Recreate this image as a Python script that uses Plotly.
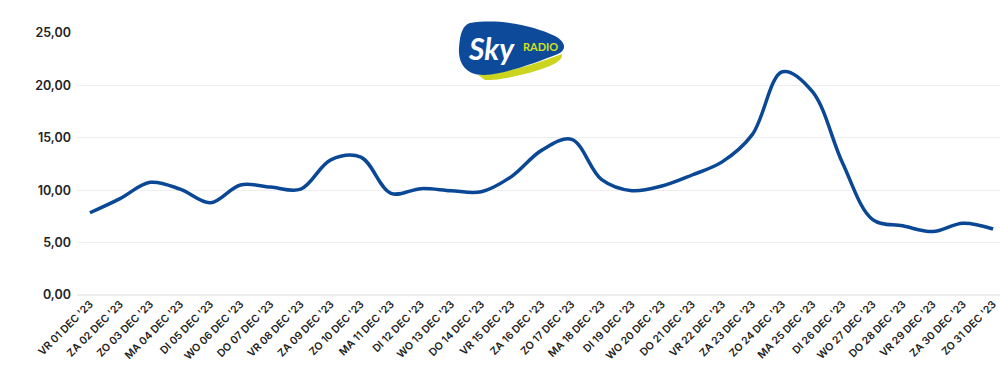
import plotly.graph_objects as go

days = ["VR 01", "ZA 02", "ZO 03", "MA 04", "DI 05", "WO 06", "DO 07", "VR 08", "ZA 09", "ZO 10",
        "MA 11", "DI 12", "WO 13", "DO 14", "VR 15", "ZA 16", "ZO 17", "MA 18", "DI 19", "WO 20",
        "DO 21", "VR 22", "ZA 23", "ZO 24", "MA 25", "DI 26", "WO 27", "DO 28", "VR 29", "ZA 30", "ZO 31"]
categories = [d + " DEC '23" for d in days]
values = [7.85, 9.2, 10.75, 10.1, 8.8, 10.5, 10.3, 10.1, 12.9, 13.15,
          9.7, 10.15, 9.95, 9.85, 11.3, 13.8, 14.85, 11.0, 9.95, 10.4,
          11.45, 12.7, 15.3, 21.3, 19.4, 12.6, 7.2, 6.6, 6.05, 6.85, 6.3]
y_ticks = [0, 5, 10, 15, 20, 25]
y_tick_labels = ["0,00", "5,00", "10,00", "15,00", "20,00", "25,00"]

W, H = 1000, 377
L, R, T, B = 77, 0, 33, 82
pw, ph = W - L - R, H - T - B

def px(x):
    return (x - L) / pw

def py(y):
    return (H - B - y) / ph

def path(cmds):
    out = []
    for c in cmds:
        if isinstance(c, str):
            out.append(c)
        else:
            out.append(f"{px(c[0]):.5f},{py(c[1]):.5f}")
    return " ".join(out)

fig = go.Figure()
fig.add_trace(go.Scatter(
    x=categories, y=values, mode="lines",
    line=dict(color="#0a4896", width=3.5, shape="spline", smoothing=1.0),
    hoverinfo="x+y", showlegend=False,
))

# Logo shapes
blue = path(["M", (470, 23), "C", (500, 18), (535, 26), (555, 36),
             "C", (566, 42), (567, 50), (558, 54),
             "C", (535, 63), (505, 74), (485, 75),
             "C", (465, 76), (458, 62), (459, 48),
             "C", (460, 33), (463, 25), (470, 23), "Z"])
swoosh = path(["M", (478, 75), "C", (505, 74), (538, 63), (562, 54),
               "C", (563, 59), (557, 63), (550, 66),
               "C", (528, 74), (505, 80), (485, 80), "Z"])
fig.add_shape(type="path", path=swoosh, xref="paper", yref="paper",
              fillcolor="#cbd51f", line=dict(width=0), layer="above")
fig.add_shape(type="path", path=blue, xref="paper", yref="paper",
              fillcolor="#0d4a9a", line=dict(width=0), layer="above")
fig.add_annotation(x=px(491), y=py(48), xref="paper", yref="paper", text="<i><b>Sky</b></i>",
                   xanchor="center", yanchor="middle",
                   showarrow=False, font=dict(family="Lato", size=30, color="white"))
fig.add_annotation(x=px(540), y=py(47), xref="paper", yref="paper", text="<b>RADIO</b>",
                   xanchor="center", yanchor="middle",
                   showarrow=False, font=dict(family="Lato", size=11, weight=900, color="#d4e019"))

fig.update_layout(
    width=W, height=H,
    margin=dict(l=L, r=R, t=T, b=B),
    paper_bgcolor="white", plot_bgcolor="white",
    font=dict(family="Inter", color="#222222"),
    xaxis=dict(
        type="category", range=[-0.43, 30.23], tickangle=-45,
        tickfont=dict(size=10.5, family="Inter", weight=600, color="#222222"),
        showgrid=False, showline=False, ticks="", zeroline=False,
    ),
    yaxis=dict(
        range=[0, 25], tickvals=y_ticks, ticktext=y_tick_labels,
        tickfont=dict(size=12.5, family="Inter", weight=600, color="#222222"),
        showgrid=True, gridcolor="#eeeeee", gridwidth=1,
        zeroline=True, zerolinecolor="#eeeeee", showline=False, ticks="",
        ticklabelstandoff=5,
    ),
)

fig.write_html("out.html")
